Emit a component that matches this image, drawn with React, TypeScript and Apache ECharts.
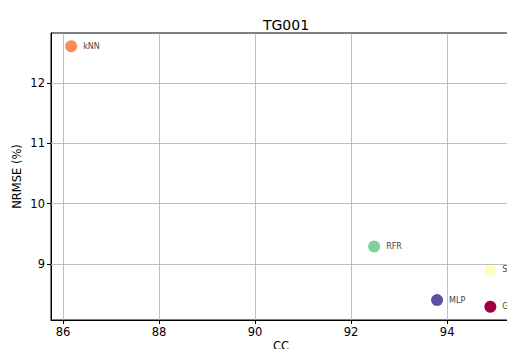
import React, { useEffect, useRef } from "react";
import * as echarts from "echarts";

const models = ["kNN", "RFR", "MLP", "SVR", "GPR"];
const ccValues = [86.17, 92.48, 93.79, 94.9, 94.9];
const nrmseValues = [12.61, 9.29, 8.4, 8.9, 8.29];
const pointColors = ["#fc8d59", "#7fcfa0", "#5e4fa2", "#ffffbf", "#9e0142"];
const xTicks = [86, 88, 90, 92, 94];
const yTicks = [9, 10, 11, 12];

const FONT = "DejaVu Sans";

export default function App() {
  const ref = useRef<HTMLDivElement>(null);
  useEffect(() => {
    const chart = echarts.init(ref.current!, null, { renderer: "svg" });
    const data = models.map((m, i) => ({
      name: m,
      value: [ccValues[i], nrmseValues[i]],
      itemStyle: { color: pointColors[i], opacity: 1 },
    }));
    chart.setOption({
      animation: false,
      title: {
        text: "TG001",
        left: 281,
        top: 13,
        textAlign: "center",
        textStyle: { fontFamily: FONT, fontSize: 14, fontWeight: "normal", color: "#000" },
      },
      grid: {
        left: 51,
        top: 33,
        width: 460,
        height: 287,
        show: true,
        borderColor: "#000",
        borderWidth: 1,
        backgroundColor: "transparent",
        outerBoundsMode: "none",
        containLabel: false,
      },
      xAxis: {
        type: "value",
        min: 85.75,
        max: 95.33,
        name: "CC",
        nameLocation: "middle",
        nameGap: 20,
        nameMoveOverlap: false,
        nameTextStyle: { fontFamily: FONT, fontSize: 11.5, color: "#000", verticalAlign: "top" },
        axisLine: { show: true, onZero: false, lineStyle: { color: "#000", width: 1 } },
        axisTick: { show: true, customValues: xTicks, length: 4, lineStyle: { color: "#000" } },
        axisLabel: {
          customValues: xTicks,
          fontFamily: FONT,
          fontSize: 11.5,
          color: "#000",
          margin: 6,
        },
        splitLine: { show: false },
      },
      yAxis: {
        type: "value",
        min: 8.07,
        max: 12.83,
        name: "NRMSE (%)",
        nameLocation: "middle",
        nameGap: 28,
        nameMoveOverlap: false,
        nameRotate: 90,
        nameTextStyle: { fontFamily: FONT, fontSize: 11.5, color: "#000" },
        axisLine: { show: true, onZero: false, lineStyle: { color: "#000", width: 1 } },
        axisTick: { show: true, customValues: yTicks, length: 4, lineStyle: { color: "#000" } },
        axisLabel: {
          customValues: yTicks,
          fontFamily: FONT,
          fontSize: 11.5,
          color: "#000",
          margin: 6,
        },
        splitLine: { show: false },
      },
      series: [
        {
          type: "scatter",
          symbolSize: 12,
          data,
          label: {
            show: true,
            position: "right",
            distance: 6,
            formatter: "{b}",
            fontFamily: FONT,
            fontSize: 8,
            color: "#444",
          },
          markLine: {
            silent: true,
            symbol: "none",
            label: { show: false },
            lineStyle: { color: "#b0b0b0", width: 0.8, type: "solid" },
            data: [
              ...xTicks.map((v) => ({ xAxis: v })),
              ...yTicks.map((v) => ({ yAxis: v })),
            ],
          },
          z: 3,
        },
      ],
    });
    return () => chart.dispose();
  }, []);
  return (
    <div
      ref={ref}
      style={{ position: "fixed", left: 0, top: 0, width: 507, height: 349, background: "#fff" }}
    />
  );
}
